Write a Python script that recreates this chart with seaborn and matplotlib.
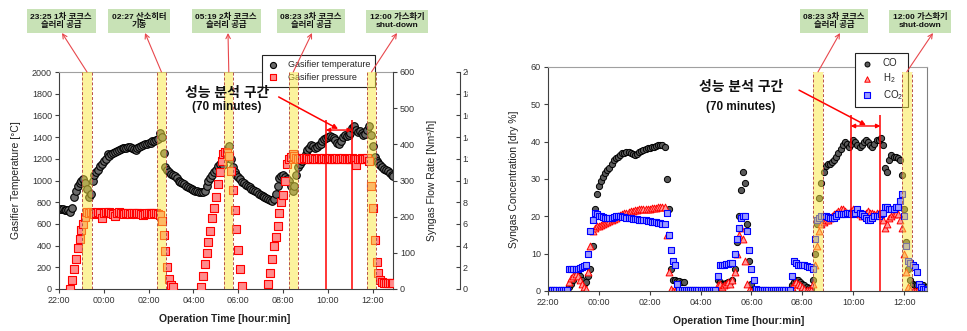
import numpy as np
import matplotlib
matplotlib.use("Agg")
import matplotlib.pyplot as plt
import seaborn as sns
from matplotlib.patches import Rectangle

N = np.nan

# sampling every 5 minutes, starting 22:00 (x in hours after 22:00)
minutes = np.arange(0, 900, 5)
hours = minutes / 60.0

tick_hours = [0, 2, 4, 6, 8, 10, 12, 14]
tick_labels = ["22:00", "00:00", "02:00", "04:00", "06:00", "08:00", "10:00", "12:00"]

# gasifier temperature [degC], one row per hour
gasifier_temp = [
    735, 738, 735, 732, 730, 728, 710, 750, 850, 900, 950, 980,
    1000, 1010, 980, 920, 850, 880, 1000, 1050, 1080, 1100, 1130, 1150,
    1180, 1200, 1240, 1230, 1240, 1250, 1260, 1270, 1280, 1290, 1295, 1300,
    1300, 1305, 1310, 1300, 1290, 1285, 1300, 1310, 1320, 1325, 1335, 1340,
    1345, 1350, 1360, 1365, 1370, 1380, 1440, 1400, 1250, 1120, 1100, 1080,
    1060, 1050, 1040, 1020, 1000, 990, 980, 965, 950, 940, 930, 920,
    910, 905, 900, 895, 890, 895, 900, 950, 1000, 1020, 1050, 1080,
    1100, 1130, 1150, 1160, 1140, 1200, 1280, 1320, 1200, 1120, 1080, 1050,
    1030, 1010, 990, 975, 960, 950, 940, 925, 910, 900, 890, 875,
    865, 855, 845, 840, 830, 820, 815, 830, 880, 950, 1020, 1040,
    1050, 1030, 1010, 1000, 950, 900, 950, 1050, 1120, 1150, 1180, 1210,
    1240, 1280, 1300, 1330, 1320, 1300, 1310, 1330, 1340, 1360, 1380, 1390,
    1400, 1410, 1400, 1390, 1370, 1350, 1340, 1360, 1400, 1420, 1410, 1420,
    1440, 1480, 1500, 1470, 1450, 1460, 1440, 1420, 1430, 1470, 1500, 1420,
    1320, 1220, 1180, 1160, 1140, 1120, 1110, 1100, 1085, 1070, 1055, 1040,
]

# gasifier pressure [bar]
gasifier_pressure = [
    N, N, N, N, N, N, 0.0, 0.8, 1.8, 2.8, 3.8, 4.6,
    5.4, 6.0, 6.6, 7.1, 7.0, 7.1, 7.0, 6.9, 7.0, 7.1, 7.0, 6.5,
    7.0, 7.1, 7.0, 7.1, 7.0, 6.9, 6.7, 7.0, 7.1, 7.0, 7.0, 6.9,
    7.0, 7.0, 6.9, 7.0, 7.0, 6.9, 7.0, 7.0, 6.9, 6.8, 6.9, 7.0,
    7.0, 7.0, 6.9, 7.0, 7.0, 6.9, 6.8, 6.3, 5.0, 3.5, 2.0, 0.9,
    0.4, 0.2, N, N, N, N, N, N, N, N, N, N,
    N, N, N, N, 0.2, 1.2, 2.3, 3.3, 4.3, 5.3, 6.5, 7.5,
    8.5, 9.7, 10.8, 11.8, 12.4, 12.6, 12.5, 12.3, 10.9, 9.1, 7.3, 5.5,
    3.6, 1.8, 0.3, N, N, N, N, N, N, N, N, N,
    N, N, N, N, 0.5, 1.5, 2.8, 4.0, 4.8, 5.8, 7.0, 8.0,
    8.7, 10.0, 11.5, 12.0, 12.2, 12.4, 12.3, 12.1, 12.0, 12.1, 12.0, 12.1,
    12.0, 12.1, 12.0, 12.0, 12.1, 12.0, 12.0, 12.1, 12.0, 12.0, 12.1, 12.0,
    12.0, 12.1, 12.0, 12.0, 12.0, 12.1, 12.0, 12.0, 12.1, 12.0, 12.0, 12.0,
    12.0, 12.1, 12.0, 11.4, 12.0, 12.0, 12.1, 12.0, 12.0, 12.1, 11.8, 9.5,
    7.5, 4.5, 2.5, 1.5, 0.8, 0.6, 0.55, 0.55, 0.55, 0.55, 0.55, 0.55,
]

# syngas composition [dry %]
co = [
    0.2, 0.2, 0.2, 0.2, 0.2, 0.2, 0.2, 0.2, 0.2, 0.2, 1.0, 2.0,
    3.0, 4.0, 4.5, 4.0, 3.0, 2.0, 2.5, 4.0, 6.0, 12, 22, 26,
    28, 29.5, 30.5, 31.5, 32.5, 33, 34, 35, 35.5, 36, 36.5, 37,
    37, 37.2, 37.3, 37, 36.8, 36.5, 36.8, 37.2, 37.5, 37.8, 38, 38.2,
    38.3, 38.5, 38.7, 38.9, 39, 39.2, 39, 38.5, 30, 22, 6, 3,
    3, 2.8, 2.6, 2.5, 2.5, 0.2, 0.2, 0.2, 0.2, 0.2, 0.2, 0.2,
    0.2, 0.2, 0.2, 0.2, 0.2, 0.2, 0.2, 0.2, 3.0, 2.5, 2.0, 2.0,
    2.2, 2.3, 2.5, 3, 6, 13, 20, 27, 32, 29, 18, 8,
    2, 0.5, 0.2, 0.2, 0.2, 0.2, 0.2, 0.2, 0.2, 0.2, 0.2, 0.2,
    0.2, 0.2, 0.2, 0.2, 0.2, 0.2, 0.2, 1.5, 2.5, 3.0, 3.0, 2.5,
    2.0, 1.5, 1.0, 0.8, 0.5, 3, 10, 18, 25, 29, 32, 33.5,
    34, 34, 34.5, 35, 36, 37, 38, 39, 40, 39.5, 38.5, 39.5,
    40.5, 40, 39, 38.5, 39, 40, 40.5, 40, 39, 38.5, 39.5, 40.5,
    40.5, 41, 39, 33, 32, 35, 36.5, 36, 36, 35.5, 35, 31,
    22, 13, 6, 3, 2, 1.5, 1.5, 1.5, 1.5, 1.5, 1.2, 1.0,
]

h2 = [
    0, 0, 0, 0, 0, 0, 0, 0, 0, 0, 2.5, 3.5,
    4.0, 4.5, 4.0, 3.0, 2.0, 1.0, 0.5, 5, 12, 16, 17, 17.5,
    17.5, 17.8, 18, 18.2, 18.5, 18.8, 19, 19.3, 19.6, 20, 20.3, 20.6,
    20.8, 21, 21.2, 21.4, 21.5, 21.6, 21.8, 21.9, 22, 22, 22, 22,
    22, 22.1, 22.2, 22.3, 22.4, 22.5, 22.5, 22.5, 15, 5, 0.5, 0,
    0, 0, 0, 0, 0, 0, 0, 0, 0, 0, 0, 0,
    0, 0, 0, 0, 0, 0, 0, 0, 1.5, 2.0, 1.0, 1.5,
    2, 2.5, 2, 3, 5, 10, 15, 17, 14, 8, 2, 0.3,
    0, 0, 0, 0, 0, 0, 0, 0, 0, 0, 0, 0,
    0, 0, 0, 0, 0, 0, 0, 1, 2, 2.5, 2, 1.5,
    1, 0.5, 0.3, 0.2, 0.2, 2, 7, 12, 16, 18, 18.5, 19,
    19, 19.5, 20, 20.5, 21, 21.5, 22, 22, 21.5, 21, 21, 21.5,
    22, 21.5, 21, 20.5, 20, 20.5, 21, 21.5, 21, 21, 20.5, 21,
    21, 20.5, 19, 17, 18, 19.5, 20, 20.5, 21, 20.5, 19, 17,
    10, 5, 1, 0.2, 0, 0, 0, 0, 0, 0, 0, 0,
]

co2 = [
    0.4, 0.4, 0.4, 0.4, 0.4, 0.4, 0.4, 0.4, 0.4, 0.4, 6, 6,
    6, 6, 6, 6.2, 6.5, 6.8, 7, 10, 16, 19, 21, 20.5,
    20, 20, 19.8, 19.6, 19.5, 19.5, 19.6, 19.8, 20, 20, 20, 19.8,
    19.7, 19.6, 19.5, 19.5, 19.4, 19.3, 19.2, 19.1, 19, 19, 18.9, 18.8,
    18.7, 18.6, 18.5, 18.4, 18.3, 18.2, 18, 18, 21, 15, 11, 8,
    7, 2, 0.4, 0.4, 0.4, 0.4, 0.4, 0.4, 0.4, 0.4, 0.4, 0.4,
    0.4, 0.4, 0.4, 0.4, 0.4, 0.4, 0.4, 0.4, 4, 7, 7, 7,
    7.2, 7.3, 7.5, 7.5, 10, 14, 17, 19.5, 20, 20, 16, 11,
    6, 3, 0.5, 0.4, 0.4, 0.4, 0.4, 0.4, 0.4, 0.4, 0.4, 0.4,
    0.4, 0.4, 0.4, 0.4, 0.4, 0.4, 0.4, 4, 8, 7.5, 7, 7,
    7, 7, 6.8, 6.5, 6.5, 6, 14, 19, 19.5, 20, 20, 20,
    19.8, 19.6, 19.5, 19.5, 20, 20.5, 20.5, 20.5, 20.5, 21, 21, 20.5,
    20.5, 21, 22, 21, 20.5, 20, 19.5, 19, 19, 19.5, 20, 20,
    20, 20.5, 21, 22.5, 22.5, 22, 22, 22, 22.5, 22.5, 24, 26,
    20, 12, 8, 7.5, 7, 6.5, 5, 2, 1, 0.5, 0.5, 0.4,
]

# slurry feed / event windows (hours after 22:00)
bands_left = [(1.04, 1.46), (4.36, 4.78), (7.37, 7.78), (10.25, 10.65), (13.73, 14.15)]
bands_right = [(10.42, 10.81), (13.91, 14.30)]
events_left = ["23:25 1차 코크스\n슬러리 공급", "02:27 산소히터\n기동", "05:19 2차 코크스\n슬러리 공급",
               "08:23 3차 코크스\n슬러리 공급", "12:00 가스화기\nshut-down"]
events_right = ["08:23 3차 코크스\n슬러리 공급", "12:00 가스화기\nshut-down"]
analysis_window = (11.90, 13.07)

sns.set_theme(style="white")
plt.rcParams["font.family"] = ["Liberation Sans", "Noto Sans CJK KR", "DejaVu Sans"]
plt.rcParams["mathtext.fontset"] = "custom"
plt.rcParams["mathtext.rm"] = "Liberation Sans"
plt.rcParams["mathtext.default"] = "rm"

W, H = 967, 331
fig = plt.figure(figsize=(W / 100, H / 100), dpi=100)


def px_box(x0, y0, x1, y1):
    return [x0 / W, 1 - y1 / H, (x1 - x0) / W, (y1 - y0) / H]


TICK_C = "#333333"
SPINE_C = "#404040"
BAND_C = "#fbe93c"
EDGE_C = "#b8504a"
BOX_C = "#c8e2b6"
ARROW_C = "#e8484d"

# ---------------- left panel: temperature / flow / pressure ----------------
ax_t = fig.add_axes(px_box(59, 72, 393, 289))
ax_f = ax_t.twinx()
ax_p = ax_t.twinx()
ax_p.spines["right"].set_position(("axes", (460 - 59) / 334))

sns.scatterplot(x=hours, y=gasifier_temp, ax=ax_t, marker="o", s=30,
                color="#6a6a6a", edgecolor="black", linewidth=0.8, legend=False)
h_temp = ax_t.collections[-1]
sns.scatterplot(x=hours, y=gasifier_pressure, ax=ax_p, marker="s", s=26,
                color="#ff8c8c", edgecolor="#ff0000", linewidth=0.8, legend=False)
h_pres = ax_p.collections[-1]

for a in (ax_t, ax_f, ax_p):
    a.set_xlim(0, 14.9)
ax_t.set_ylim(0, 2000)
ax_f.set_ylim(0, 600)
ax_p.set_ylim(0, 20)
ax_t.set_yticks(range(0, 2001, 200))
ax_f.set_yticks(range(0, 601, 100))
ax_p.set_yticks(range(0, 21, 2))
ax_t.set_xticks(tick_hours)
ax_t.set_xticklabels(tick_labels)

ax_t.tick_params(axis="both", direction="out", length=3, width=0.8, labelsize=6.5,
                 colors=SPINE_C, labelcolor=TICK_C, pad=2)
ax_t.tick_params(axis="x", bottom=True)
ax_t.tick_params(axis="y", left=True)
ax_f.tick_params(axis="y", direction="out", length=3, width=0.8, labelsize=6.5,
                 colors=SPINE_C, labelcolor=TICK_C, pad=2, right=True)
ax_p.tick_params(axis="y", direction="in", length=3, width=0.8, labelsize=6.5,
                 colors=SPINE_C, labelcolor=TICK_C, pad=2, right=True)

for name, sp in ax_t.spines.items():
    sp.set_visible(name in ("left", "bottom", "top"))
    sp.set_color(SPINE_C)
    sp.set_linewidth(0.8)
ax_t.spines["top"].set_color("#a0a0a0")
for a in (ax_f, ax_p):
    for name, sp in a.spines.items():
        sp.set_visible(name == "right")
        sp.set_color(SPINE_C)
        sp.set_linewidth(0.8)

ax_t.set_ylabel("Gasifier Temperature [°C]", fontsize=7.5, color="#222222")
ax_t.yaxis.set_label_coords((21 - 59) / 334, 0.5)
ax_f.set_ylabel("Syngas Flow Rate [Nm³/h]", fontsize=7.5, color="#222222")
ax_f.yaxis.set_label_coords((427 - 59) / 334, 0.5)
ax_t.set_xlabel("Operation Time [hour:min]", fontsize=7.5, fontweight="bold", color="#222222")
ax_t.xaxis.set_label_coords((225 - 59) / 334, (289 - 314) / 217)

# event windows and markers drawn on top axis
for i, (a, b) in enumerate(bands_left):
    ax_p.axvspan(a, b, color=BAND_C, alpha=0.5, lw=0, zorder=5)
    for xv in (a, b):
        ax_p.axvline(xv, color=EDGE_C, ls=(0, (3, 2)), lw=0.7, zorder=6)

box_left_x = [61, 139, 226, 311, 397]
box_left_tip = [62, 145, 228, 312, 397]
for i, (a, b) in enumerate(bands_left):
    ax_p.annotate("", xy=(box_left_tip[i] / W, 1 - 33 / H), xycoords="figure fraction",
                  xytext=((a + b) / 2, 20), textcoords="data",
                  arrowprops=dict(arrowstyle="->", color=ARROW_C, lw=0.8,
                                  shrinkA=0, shrinkB=0, mutation_scale=8),
                  annotation_clip=False, zorder=7)
    fig.text(box_left_x[i] / W, 1 - 21 / H, events_left[i], ha="center", va="center",
             fontsize=6, fontweight="bold", color="#111111", linespacing=1.1,
             bbox=dict(boxstyle="square,pad=0.45", fc=BOX_C, ec="none"))

# performance-analysis window (pressure axis units: degC / 100)
x0, x1 = analysis_window
ax_p.vlines([x0, x1], 0, 15.6, color="#ff0000", lw=1.1, zorder=7)
ax_p.annotate("", xy=(x1, 14.65), xytext=(x0, 14.65),
              arrowprops=dict(arrowstyle="<|-|>", color="#ff0000", lw=1.0,
                              shrinkA=0, shrinkB=0, mutation_scale=6), zorder=7)
ax_p.annotate("", xy=(12.45, 14.75), xytext=(9.8, 17.7),
              arrowprops=dict(arrowstyle="-|>", color="#ff0000", lw=1.1,
                              shrinkA=0, shrinkB=0, mutation_scale=7), zorder=7)
ax_p.text(7.5, 18.06, "성능 분석 구간", ha="center", va="center", fontsize=10,
          fontweight="bold", color="#111111", zorder=8)
ax_p.text(7.5, 16.77, "(70 minutes)", ha="center", va="center", fontsize=8.5,
          fontweight="bold", color="#111111", zorder=8)

leg = ax_p.legend([h_temp, h_pres], ["Gasifier temperature", "Gasifier pressure"],
                  loc="upper left", bbox_to_anchor=(257 / W, 1 - 50 / H),
                  bbox_transform=fig.transFigure, fontsize=6.5, frameon=True,
                  fancybox=False, edgecolor="#222222", framealpha=1,
                  borderpad=0.6, labelspacing=0.4, handletextpad=1.0,
                  handlelength=1.3, scatterpoints=1, markerscale=0.8)
leg.get_frame().set_linewidth(0.8)
leg.set_zorder(4)

# ---------------- right panel: syngas composition ----------------
ax_c = fig.add_axes(px_box(548, 67, 927, 291))
sns.scatterplot(x=hours, y=co, ax=ax_c, marker="o", s=20, color="#5a5a5a",
                edgecolor="black", linewidth=0.7, legend=False)
h_co = ax_c.collections[-1]
sns.scatterplot(x=hours, y=h2, ax=ax_c, marker="^", s=24, color="#ff9a9a",
                edgecolor="#ff0000", linewidth=0.7, legend=False)
h_h2 = ax_c.collections[-1]
sns.scatterplot(x=hours, y=co2, ax=ax_c, marker="s", s=22, color="#9a9aff",
                edgecolor="#0000ff", linewidth=0.8, legend=False)
h_co2 = ax_c.collections[-1]

ax_c.set_xlim(0, 14.9)
ax_c.set_ylim(0, 60)
ax_c.set_yticks(range(0, 61, 10))
ax_c.set_xticks(tick_hours)
ax_c.set_xticklabels(tick_labels)
ax_c.tick_params(axis="both", direction="out", length=3, width=0.8, labelsize=6.5,
                 colors=SPINE_C, labelcolor=TICK_C, pad=2, left=True, bottom=True)
for name, sp in ax_c.spines.items():
    sp.set_visible(True)
    sp.set_color(SPINE_C)
    sp.set_linewidth(0.8)
ax_c.spines["top"].set_color("#a0a0a0")
ax_c.spines["right"].set_color("#808080")

ax_c.set_ylabel("Syngas Concentration [dry %]", fontsize=7.5, color="#222222")
ax_c.yaxis.set_label_coords((519 - 548) / 379, 0.5)
ax_c.set_xlabel("Operation Time [hour:min]", fontsize=7.5, fontweight="bold", color="#222222")
ax_c.xaxis.set_label_coords((739 - 548) / 379, (291 - 316) / 224)

band_top = 58.7
for a, b in bands_right:
    ax_c.axvspan(a, b, ymin=0, ymax=band_top / 60, color=BAND_C, alpha=0.5, lw=0, zorder=5)
    for xv in (a, b):
        ax_c.vlines(xv, 0, band_top, color=EDGE_C, linestyles=(0, (3, 2)), lw=0.7, zorder=6)

box_right_x = [834, 920]
box_right_tip = [840, 933]
for i, (a, b) in enumerate(bands_right):
    ax_c.annotate("", xy=(box_right_tip[i] / W, 1 - 33 / H), xycoords="figure fraction",
                  xytext=((a + b) / 2, band_top), textcoords="data",
                  arrowprops=dict(arrowstyle="->", color=ARROW_C, lw=0.8,
                                  shrinkA=0, shrinkB=0, mutation_scale=8),
                  annotation_clip=False, zorder=7)
    fig.text(box_right_x[i] / W, 1 - 21 / H, events_right[i], ha="center", va="center",
             fontsize=6, fontweight="bold", color="#111111", linespacing=1.1,
             bbox=dict(boxstyle="square,pad=0.45", fc=BOX_C, ec="none"))

ax_c.vlines([x0, x1], 0, 47.1, color="#ff0000", lw=1.1, zorder=7)
ax_c.annotate("", xy=(x1, 44.2), xytext=(x0, 44.2),
              arrowprops=dict(arrowstyle="<|-|>", color="#ff0000", lw=1.0,
                              shrinkA=0, shrinkB=0, mutation_scale=6), zorder=7)
ax_c.annotate("", xy=(12.5, 44.4), xytext=(9.87, 53.8),
              arrowprops=dict(arrowstyle="-|>", color="#ff0000", lw=1.1,
                              shrinkA=0, shrinkB=0, mutation_scale=7), zorder=7)
ax_c.text(7.59, 54.6, "성능 분석 구간", ha="center", va="center", fontsize=10,
          fontweight="bold", color="#111111", zorder=8)
ax_c.text(7.59, 49.3, "(70 minutes)", ha="center", va="center", fontsize=8.5,
          fontweight="bold", color="#111111", zorder=8)

leg2 = ax_c.legend([h_co, h_h2, h_co2], ["CO", "H$_2$", "CO$_2$"],
                   loc="upper left", bbox_to_anchor=(850 / W, 1 - 48 / H),
                   bbox_transform=fig.transFigure, fontsize=7, frameon=True,
                   fancybox=False, edgecolor="#222222", framealpha=1,
                   borderpad=0.55, labelspacing=0.3, handletextpad=1.0,
                   handlelength=1.3, scatterpoints=1, markerscale=0.8)
leg2.get_frame().set_linewidth(0.8)
leg2.set_zorder(4)

# the left panel ends just past its pressure scale
fig.add_artist(Rectangle((468 / W, 0), 22 / W, 1, transform=fig.transFigure,
                         facecolor="white", edgecolor="none", zorder=20))

fig.savefig("out.png", dpi=100)
